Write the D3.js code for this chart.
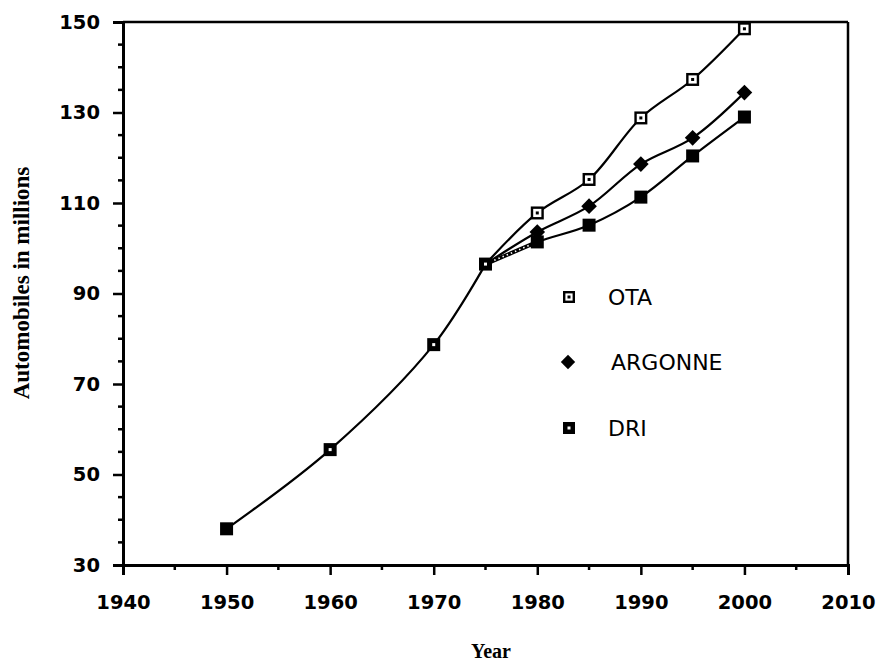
<!DOCTYPE html>
<html>
<head>
<meta charset="utf-8">
<script src="https://cdn.jsdelivr.net/npm/d3@7"></script>
<style>
  html, body { margin: 0; padding: 0; background: #fff; }
  svg { display: block; }
</style>
</head>
<body>
<svg id="chart" width="878" height="663"></svg>
<script>
// ---- data ----
const commonYears = [1950, 1960, 1970, 1975];
const commonValues = [38, 55.5, 78.7, 96.5];
const commonMarkers = ["filled", "dot", "dot", "dot"];

const projYears = [1975, 1980, 1985, 1990, 1995, 2000];
const otaValues = [96.5, 107.8, 115.2, 128.8, 137.3, 148.5];
const argonneValues = [96.5, 103.6, 109.3, 118.6, 124.4, 134.4];
const driValues = [96.5, 101.4, 105.1, 111.3, 120.4, 129.0];

const seriesNames = ["OTA", "ARGONNE", "DRI"];
const seriesMarkers = ["open", "diamond", "filled"];

const xTicks = [1940, 1950, 1960, 1970, 1980, 1990, 2000, 2010];
const yTicks = [30, 50, 70, 90, 110, 130, 150];
const xMinorTicks = [1945, 1955, 1965, 1975, 1985, 1995, 2005];
const yMinorTicks = [35, 40, 45, 55, 60, 65, 75, 80, 85, 95, 100, 105, 115, 120, 125, 135, 140, 145];

const yTitle = "Automobiles in millions";
const xTitle = "Year";

// ---- layout ----
const svg = d3.select("#chart");
const x = d3.scaleLinear().domain([1940, 2010]).range([123, 848]);
const y = d3.scaleLinear().domain([30, 150]).range([565, 22]);

const tickFont = "'DejaVu Sans', sans-serif";

// frame (top + right)
svg.append("line").attr("x1", x(1940)).attr("x2", x(2010)).attr("y1", y(150)).attr("y2", y(150))
  .attr("stroke", "#000").attr("stroke-width", 2.5);
svg.append("line").attr("x1", x(2010)).attr("x2", x(2010)).attr("y1", y(150)).attr("y2", y(30))
  .attr("stroke", "#000").attr("stroke-width", 2.5);

// axes
const xAxis = svg.append("g").attr("transform", `translate(0,${y(30)})`)
  .call(d3.axisBottom(x).tickValues(xTicks).tickFormat(d3.format("d")).tickSize(10).tickPadding(20));
xAxis.append("g").selectAll("line").data(xMinorTicks).join("line")
  .attr("x1", d => x(d)).attr("x2", d => x(d)).attr("y1", 0).attr("y2", 5)
  .attr("stroke", "#000").attr("stroke-width", 2.5);

const yAxis = svg.append("g").attr("transform", `translate(${x(1940)},0)`)
  .call(d3.axisLeft(y).tickValues(yTicks).tickSize(10).tickPadding(13));
yAxis.append("g").selectAll("line").data(yMinorTicks).join("line")
  .attr("x1", -5).attr("x2", 0).attr("y1", d => y(d)).attr("y2", d => y(d))
  .attr("stroke", "#000").attr("stroke-width", 2.5);

[xAxis, yAxis].forEach(g => {
  g.select(".domain").attr("stroke-width", 3);
  g.selectAll(".tick line").attr("stroke-width", 2.5);
  g.selectAll(".tick text").attr("font-family", tickFont).attr("font-weight", "bold")
    .attr("font-size", 19.5).attr("fill", "#000");
});

// axis titles
svg.append("text").attr("transform", `translate(29,${283}) rotate(-90)`)
  .attr("text-anchor", "middle").attr("font-family", "'Liberation Serif', serif")
  .attr("font-weight", "bold").attr("font-size", 23).text(yTitle);
svg.append("text").attr("x", 491).attr("y", 658)
  .attr("text-anchor", "middle").attr("font-family", "'Liberation Serif', serif")
  .attr("font-weight", "bold").attr("font-size", 20).text(xTitle);

// lines
const line = d3.line().x(d => x(d[0])).y(d => y(d[1])).curve(d3.curveCatmullRom.alpha(0.5));
const lineStyle = sel => sel.attr("fill", "none").attr("stroke", "#000").attr("stroke-width", 2.2);

svg.append("path").datum(d3.zip(commonYears, commonValues)).attr("d", line).call(lineStyle);
const seriesValues = [otaValues, argonneValues, driValues];
seriesValues.forEach(vals => {
  svg.append("path").datum(d3.zip(projYears, vals)).attr("d", line).call(lineStyle);
});
// dotted look on the DRI branch just after 1975
svg.append("path").datum(d3.zip(projYears.slice(0, 2), driValues.slice(0, 2)))
  .attr("d", line).attr("fill", "none").attr("stroke", "#000").attr("stroke-width", 4);
svg.append("path").datum(d3.zip(projYears.slice(0, 2), driValues.slice(0, 2)))
  .attr("d", line).attr("fill", "none").attr("stroke", "#fff").attr("stroke-width", 1.6)
  .attr("stroke-dasharray", "1.5 3").attr("stroke-dashoffset", -14);

// markers
function drawMarker(g, type, cx, cy, s) {
  if (type === "filled") {
    g.append("rect").attr("x", cx - s / 2).attr("y", cy - s / 2).attr("width", s).attr("height", s).attr("fill", "#000");
  } else if (type === "dot") {
    g.append("rect").attr("x", cx - s / 2).attr("y", cy - s / 2).attr("width", s).attr("height", s).attr("fill", "#000");
    g.append("rect").attr("x", cx - 1.5).attr("y", cy - 1.5).attr("width", 3).attr("height", 3).attr("fill", "#fff");
  } else if (type === "open") {
    g.append("rect").attr("x", cx - s / 2 + 1.2).attr("y", cy - s / 2 + 1.2).attr("width", s - 2.4).attr("height", s - 2.4)
      .attr("fill", "#fff").attr("stroke", "#000").attr("stroke-width", 2.4);
    g.append("rect").attr("x", cx - 1.5).attr("y", cy - 1.5).attr("width", 3).attr("height", 3).attr("fill", "#000");
  } else if (type === "diamond") {
    const r = s * 0.6;
    g.append("path").attr("d", `M${cx},${cy - r}L${cx + r},${cy}L${cx},${cy + r}L${cx - r},${cy}Z`).attr("fill", "#000");
  }
}

const mk = svg.append("g");
commonYears.forEach((yr, i) => drawMarker(mk, commonMarkers[i], x(yr), y(commonValues[i]), 13));
seriesValues.forEach((vals, si) => {
  projYears.forEach((yr, i) => {
    if (i === 0) return;
    drawMarker(mk, seriesMarkers[si], x(yr), y(vals[i]), 13);
  });
});

// legend
const legendX = [569, 568, 569];
const legendTextX = [608, 611, 608];
const legendY = [297, 362, 428];
const legendMarkers = ["open", "diamond", "dot"];
const lg = svg.append("g");
seriesNames.forEach((name, i) => {
  drawMarker(lg, legendMarkers[i], legendX[i], legendY[i], 12);
  lg.append("text").attr("x", legendTextX[i]).attr("y", legendY[i] + 8)
    .attr("font-family", "'DejaVu Sans', sans-serif").attr("font-size", 22).text(name);
});
</script>
</body>
</html>
